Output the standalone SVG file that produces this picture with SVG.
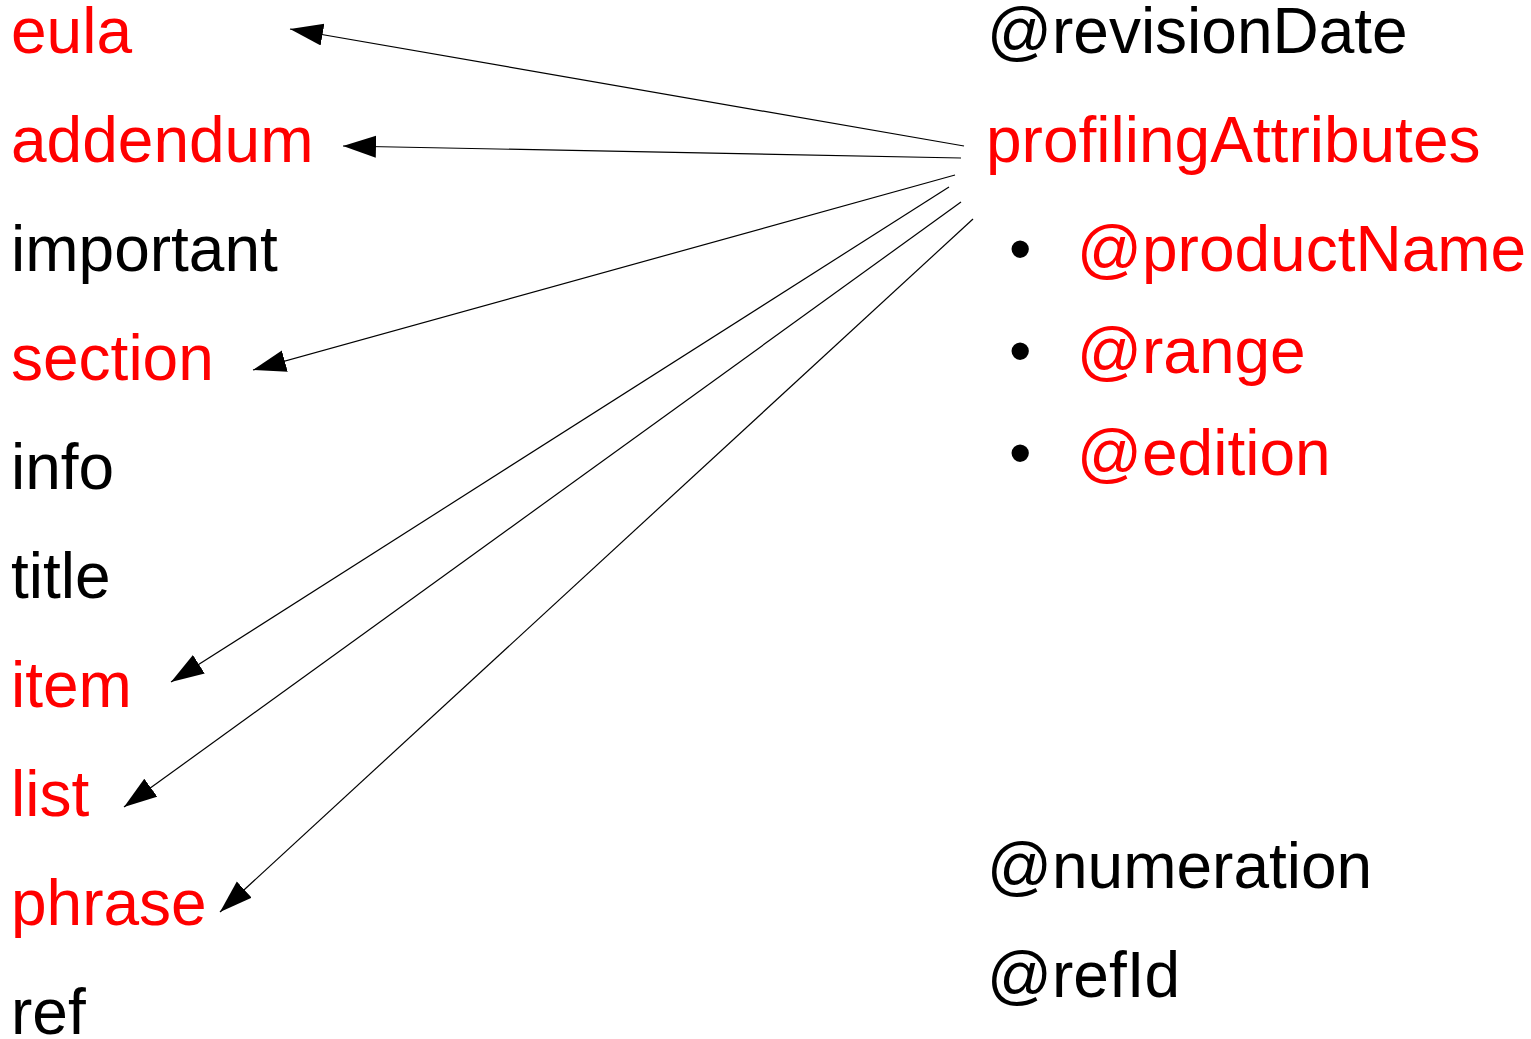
<svg xmlns="http://www.w3.org/2000/svg" width="1531" height="1039" viewBox="0 0 1531 1039">
<style>
text { font-family: "Liberation Sans", Arial, sans-serif; font-size: 64px; }
.r { fill: #ff0000; }
.k { fill: #000000; }
.c { stroke: #000000; stroke-width: 1.2; fill: none; marker-end: url(#ah); }
</style>
<defs>
<marker id="ah" markerUnits="userSpaceOnUse" markerWidth="34" markerHeight="24" refX="33" refY="11" orient="auto" viewBox="0 0 34 24">
<path d="M0,0 L33,11 L0,22 Z" fill="#000000"/>
</marker>
</defs>
<rect width="1531" height="1039" fill="#ffffff"/>
<g id="left-column">
<g id="n-eula"><text class="r" x="11" y="53">eula</text></g>
<g id="n-addendum"><text class="r" x="11" y="162">addendum</text></g>
<g id="n-important"><text class="k" x="11" y="271">important</text></g>
<g id="n-section"><text class="r" x="11" y="380">section</text></g>
<g id="n-info"><text class="k" x="11" y="489">info</text></g>
<g id="n-title"><text class="k" x="11" y="598">title</text></g>
<g id="n-item"><text class="r" x="11" y="707">item</text></g>
<g id="n-list"><text class="r" x="11" y="816">list</text></g>
<g id="n-phrase"><text class="r" x="11" y="925">phrase</text></g>
<g id="n-ref"><text class="k" x="11" y="1034">ref</text></g>
</g>
<g id="right-column">
<g id="n-revisionDate"><text class="k" x="987" y="53">@revisionDate</text></g>
<g id="n-profilingAttributes"><text class="r" x="986" y="162">profilingAttributes</text></g>
<g id="n-productName"><text class="k" x="1009" y="271">•</text><text class="r" x="1077" y="271">@productName</text></g>
<g id="n-range"><text class="k" x="1009" y="373">•</text><text class="r" x="1077" y="373">@range</text></g>
<g id="n-edition"><text class="k" x="1009" y="475">•</text><text class="r" x="1077" y="475">@edition</text></g>
<g id="n-numeration"><text class="k" x="987" y="888">@numeration</text></g>
<g id="n-refId"><text class="k" x="987" y="997">@refId</text></g>
</g>
<g id="connectors">
<line class="c" x1="964" y1="146" x2="290" y2="29"/>
<line class="c" x1="961" y1="158" x2="343" y2="146"/>
<line class="c" x1="955" y1="175" x2="253" y2="370"/>
<line class="c" x1="949" y1="187" x2="171" y2="682"/>
<line class="c" x1="961" y1="202" x2="124" y2="807"/>
<line class="c" x1="973" y1="219" x2="220" y2="912"/>
</g>
</svg>
